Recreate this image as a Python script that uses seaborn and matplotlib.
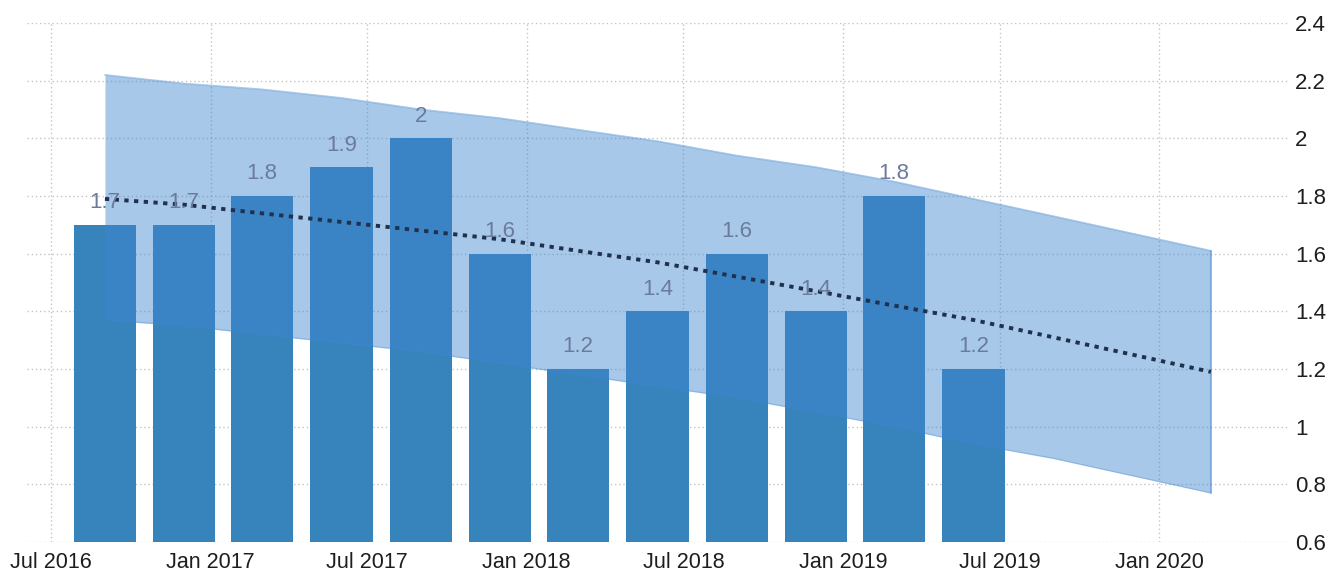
import matplotlib
matplotlib.use('Agg')
import matplotlib.pyplot as plt
import matplotlib.dates as mdates
import matplotlib.ticker as mticker
import seaborn as sns
import pandas as pd
import numpy as np

sns.set_style('white')
plt.rcParams['font.family'] = ['Liberation Sans', 'DejaVu Sans']

# quarterly values (bars)
quarters = ['2016-09-01', '2016-12-01', '2017-03-01', '2017-06-01',
            '2017-09-01', '2017-12-01', '2018-03-01', '2018-06-01',
            '2018-09-01', '2018-12-01', '2019-03-01', '2019-06-01']
growth = [1.7, 1.7, 1.8, 1.9, 2.0, 1.6, 1.2, 1.4, 1.6, 1.4, 1.8, 1.2]
bar_labels = ['1.7', '1.7', '1.8', '1.9', '2', '1.6', '1.2', '1.4', '1.6', '1.4', '1.8', '1.2']

# trend and forecast band
band_dates = ['2016-09-01', '2016-12-01', '2017-03-01', '2017-06-01',
              '2017-09-01', '2017-12-01', '2018-03-01', '2018-06-01',
              '2018-09-01', '2018-12-01', '2019-03-01', '2019-06-01',
              '2019-09-01', '2019-12-01', '2020-03-01']
trend = [1.79, 1.77, 1.74, 1.71, 1.68, 1.65, 1.61, 1.57,
         1.52, 1.47, 1.42, 1.37, 1.31, 1.25, 1.19]
band_upper = [2.22, 2.19, 2.17, 2.14, 2.10, 2.07, 2.03, 1.99,
              1.94, 1.90, 1.85, 1.79, 1.73, 1.67, 1.61]
band_lower = [1.37, 1.35, 1.32, 1.29, 1.26, 1.22, 1.18, 1.14,
              1.10, 1.05, 1.00, 0.94, 0.89, 0.83, 0.77]

W, H = 1341, 574
fig = plt.figure(figsize=(W / 100, H / 100), dpi=100)
ax = fig.add_axes([27 / W, 32 / H, (1288 - 27) / W, (542 - 23) / H])
ax.set_axisbelow(True)

bar_x = mdates.date2num(pd.to_datetime(quarters))
band_x = mdates.date2num(pd.to_datetime(band_dates))

# bars
sns.barplot(x=bar_x, y=growth, native_scale=True, orient='x', width=0.8,
            color='#3784bd', saturation=1, errorbar=None, linewidth=0,
            ax=ax, zorder=2)

# forecast band
band_col = '#3e85cf'
ax.fill_between(band_x, band_lower, band_upper, color=band_col, alpha=0.45,
                linewidth=0, zorder=3)
ax.plot(band_x, band_upper, color=band_col, alpha=0.45, lw=1.2, zorder=3)
ax.plot(band_x, band_lower, color=band_col, alpha=0.3, lw=1.0, zorder=3)
ax.plot([band_x[-1], band_x[-1]], [band_lower[-1], band_upper[-1]],
        color=band_col, alpha=0.45, lw=1.5, zorder=3)

# dotted trend
sns.lineplot(x=band_x, y=trend, ax=ax, color='#22304f', lw=2.8,
             linestyle=(0, (1.1, 1.4)), zorder=4)

# value labels
for x, v, lab in zip(bar_x, growth, bar_labels):
    ax.annotate(lab, (x, v), xytext=(0, 12), textcoords='offset points',
                ha='center', va='baseline', fontsize=16, color='#6a7b9c',
                zorder=5)

# axes
ax.set_xlim(mdates.date2num(pd.Timestamp('2016-06-03')),
            mdates.date2num(pd.Timestamp('2020-05-29')))
ax.set_ylim(0.6, 2.4)
ax.set_yticks(np.arange(0.6, 2.41, 0.2))
ax.yaxis.set_major_formatter(mticker.FuncFormatter(lambda v, p: '%g' % round(v, 1)))
ax.xaxis.set_major_locator(mdates.MonthLocator(bymonth=[1, 7]))
ax.xaxis.set_major_formatter(mdates.DateFormatter('%b %Y'))
ax.yaxis.tick_right()
ax.tick_params(axis='y', length=0, pad=5, labelsize=16, labelcolor='#1e1e1e')
ax.tick_params(axis='x', length=5, width=1, color='#c8c8c8', pad=2,
               labelsize=15.5, labelcolor='#1e1e1e')
ax.grid(True, color='#c4c4c4', linestyle=(0, (1, 2)), linewidth=1)
ax.set_xlabel('')
ax.set_ylabel('')
for s in ax.spines.values():
    s.set_visible(False)

fig.savefig('out.png', dpi=100)
